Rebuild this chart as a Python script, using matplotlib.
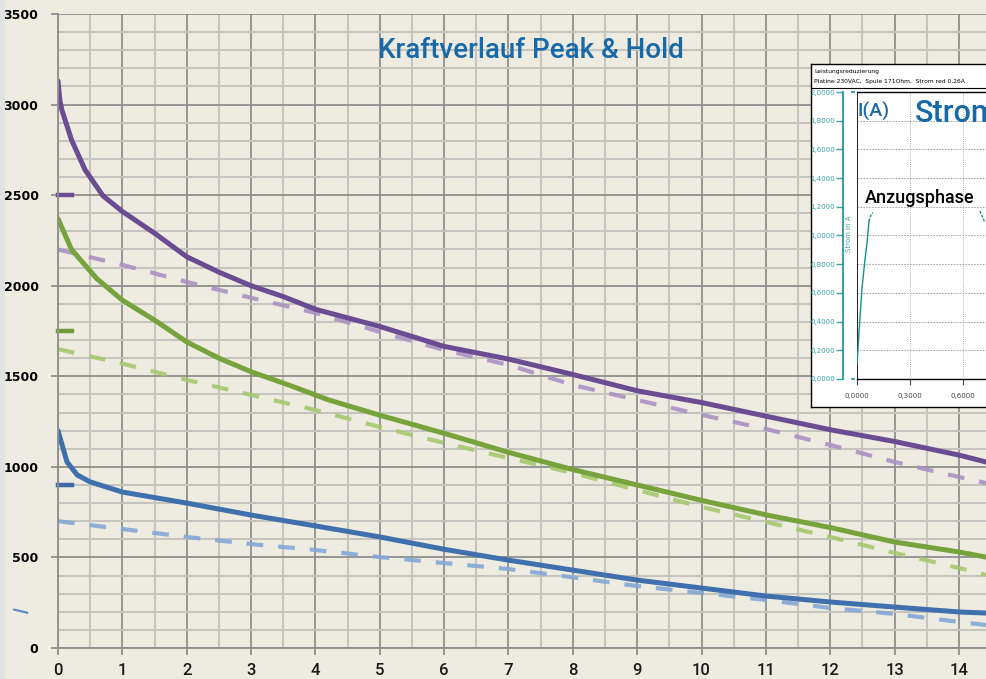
import matplotlib.pyplot as plt
from matplotlib.patches import Rectangle
from matplotlib.ticker import MultipleLocator, FuncFormatter

# Kraft-Kurven
x_purple = [0, 0.03, 0.06, 0.21, 0.42, 0.7, 1.0, 1.5, 2, 2.5, 3, 3.5, 4, 5, 6, 7, 8, 9, 10, 11, 12, 13, 14, 14.42]
purple = [3130, 3020, 2970, 2805, 2640, 2496, 2410, 2290, 2160, 2075, 2000, 1940, 1870, 1775, 1665, 1595,
          1510, 1420, 1355, 1280, 1205, 1140, 1065, 1027]

x_green = [0, 0.21, 0.6, 1, 1.5, 2, 2.5, 3, 3.6, 4.2, 5, 6, 7, 8, 9, 10, 11, 12, 13, 14, 14.42]
green = [2370, 2200, 2040, 1920, 1810, 1690, 1600, 1525, 1450, 1370, 1285, 1185, 1080, 985, 900, 815,
         735, 665, 585, 530, 502]

x_blue = [0, 0.14, 0.3, 0.5, 1, 2, 3, 4, 5, 6, 7, 8, 9, 10, 11, 12, 13, 14, 14.42]
blue = [1200, 1027, 955, 917, 861, 800, 734, 674, 613, 545, 485, 430, 375, 331, 287, 254, 226, 199, 193]

x_dash = [0, 1, 2, 3, 4, 5, 6, 7, 8, 9, 10, 11, 12, 13, 14, 14.42]
purple_d = [2200, 2115, 2021, 1933, 1850, 1745, 1645, 1563, 1452, 1369, 1287, 1209, 1121, 1027, 944, 911]
green_d = [1650, 1570, 1480, 1397, 1314, 1220, 1132, 1049, 966, 872, 779, 696, 613, 525, 442, 403]
blue_d = [700, 657, 613, 574, 541, 502, 469, 436, 390, 342, 304, 265, 221, 188, 144, 127]

# Haltekraft-Markierungen
hold_levels = [2500, 1750, 900]

# Strom-Inset
t_strom = [0, 0.01, 0.028, 0.045, 0.057, 0.068]
i_strom = [0.10, 0.30, 0.63, 0.83, 0.95, 1.10]
t_strom_d = [0.068, 0.078, 0.09]
i_strom_d = [1.10, 1.14, 1.16]
t_strom2 = [0.696, 0.724]
i_strom2 = [1.17, 1.09]

bg = '#eeebe0'
c_purple, c_green, c_blue = '#6a4c93', '#77a33c', '#3f6fad'
c_purple_d, c_green_d, c_blue_d = '#a892c2', '#a6c96e', '#84a7d6'
teal = '#178f8f'

W, H = 986, 679
fig = plt.figure(figsize=(W / 100, H / 100), dpi=100, facecolor=bg)
fig.patches.append(Rectangle((0, 0), 5 / W, 1, transform=fig.transFigure,
                             facecolor='#e1e2e4', edgecolor='none', zorder=0))

ax = fig.add_axes([58 / W, 1 - 648 / H, 1 - 58 / W, (648 - 14) / H])
ax.set_facecolor(bg)
ax.set_xlim(0, 14.42)
ax.set_ylim(0, 3500)
ax.xaxis.set_major_locator(MultipleLocator(1))
ax.xaxis.set_minor_locator(MultipleLocator(0.5))
ax.yaxis.set_major_locator(MultipleLocator(500))
ax.yaxis.set_minor_locator(MultipleLocator(100))
ax.grid(which='major', color='#8e8e8e', lw=1.3)
ax.grid(which='minor', color='#c6c4be', lw=1.5)
ax.set_axisbelow(True)
for s in ['top', 'right']:
    ax.spines[s].set_visible(False)
for s in ['left', 'bottom']:
    ax.spines[s].set_color('#8e8e8e')
    ax.spines[s].set_linewidth(1.3)
ax.tick_params(which='major', length=5, width=1.3, color='#8e8e8e')
ax.tick_params(which='minor', length=0)
ax.tick_params(axis='y', labelsize=9, pad=9)
ax.tick_params(axis='x', labelsize=12, pad=6)
for lab in ax.get_yticklabels():
    lab.set_fontweight('bold')
    lab.set_family('DejaVu Sans')
for lab in ax.get_xticklabels():
    lab.set_family('Roboto')
    lab.set_fontweight('medium')
    lab.set_color('#1a1a1a')

ax.plot(x_dash, purple_d, color=c_purple_d, lw=3, dashes=(4, 3.6), alpha=0.9)
ax.plot(x_dash, green_d, color=c_green_d, lw=3, dashes=(4, 3.6), alpha=0.9)
ax.plot(x_dash, blue_d, color=c_blue_d, lw=3, dashes=(4, 3.6), alpha=0.9)
ax.plot(x_purple, purple, color=c_purple, lw=3.6, solid_capstyle='round', solid_joinstyle='round')
ax.plot(x_green, green, color=c_green, lw=3.6, solid_capstyle='round', solid_joinstyle='round')
ax.plot(x_blue, blue, color=c_blue, lw=3.6, solid_capstyle='round', solid_joinstyle='round')

for lvl, c in zip(hold_levels, ['#6b4c94', '#6f9a35', '#3c68a6']):
    ax.plot([0, 0.22], [lvl, lvl], color=c, lw=3.2, clip_on=False)
ax.plot([-0.68, -0.48], [212, 195], color='#5a86c2', lw=1.5, clip_on=False)

fig.text(531 / W, 1 - 50 / H, 'Kraftverlauf Peak & Hold', color='#1769a8',
         fontsize=20, family='Roboto', fontweight='medium', ha='center', va='center')

# Inset: Stromverlauf
box = fig.add_axes([811 / W, 1 - 407 / H, 0.4, (407 - 64) / H])
box.set_facecolor('white')
box.set_xticks([])
box.set_yticks([])
for s in box.spines.values():
    s.set_color('black')
    s.set_linewidth(1)
box.set_xlim(0, 1)
box.set_ylim(0, 1)
box.axhline((407 - 88) / (407 - 64), color='black', lw=0.8)
box.text(3 / 394, (407 - 71) / 343, 'Leistungsreduzierung', fontsize=4.3, va='center')
box.text(3 / 394, (407 - 82) / 343, 'Platine 230VAC,  Spule 171Ohm,  Strom red 0,26A',
         fontsize=4.3, va='center')

ai = fig.add_axes([857 / W, 1 - 379 / H, 0.4, (379 - 92) / H])
ai.set_facecolor('white')
ai.set_xlim(0, 0.4 * W * 0.3 / 53)
ai.set_ylim(0, 2)
ai.yaxis.set_major_locator(MultipleLocator(0.2))
ai.xaxis.set_major_locator(MultipleLocator(0.3))
fmt = FuncFormatter(lambda v, p: f'{v:.4f}'.replace('.', ','))
ai.yaxis.set_major_formatter(fmt)
ai.xaxis.set_major_formatter(fmt)
ai.grid(axis='y', color='#999999', lw=0.6, ls=(0, (2, 1.5)))
ai.grid(axis='x', color='#999999', lw=0.6, ls=(0, (1, 1.5)))
ai.spines['left'].set_position(('outward', 10))
ai.spines['left'].set_color(teal)
ai.spines['left'].set_linewidth(1.2)
ai.spines['top'].set_linewidth(1)
ai.spines['bottom'].set_linewidth(1)
ai.axvline(0, color='black', lw=1.2)
ai.tick_params(axis='y', colors='#3aa4a4', labelsize=5, length=5, width=1, pad=1)
ai.tick_params(axis='x', labelsize=5, length=4, width=0.8, pad=6, colors='#444444')
ai.plot([-0.028, -0.015], [2, 2], color=teal, lw=1.2, clip_on=False)
ai.plot([-0.028, -0.015], [0, 0], color=teal, lw=1.2, clip_on=False)
fig.text(849 / W, 1 - 234 / H, 'Strom in A', rotation=90, color='#3aa4a4',
         fontsize=5, ha='center', va='center')

ai.plot(t_strom, i_strom, color=teal, lw=1)
ai.plot(t_strom_d, i_strom_d, color=teal, lw=1, dashes=(2, 1))
ai.plot(t_strom2, i_strom2, color=teal, lw=1, dashes=(2, 1))

ai.text(0.005, 1.93, 'I(A)', color='#1769a8', fontsize=14, family='Roboto',
        fontweight='medium', va='top')
ai.text(0.33, 1.95, 'Strom', color='#1769a8', fontsize=22, family='Roboto',
        fontweight='medium', va='top')
ai.text(0.045, 1.2, 'Anzugsphase', color='black', fontsize=13, family='Roboto',
        fontweight='medium', va='bottom')

fig.savefig('out.png', dpi=100, facecolor=bg)
